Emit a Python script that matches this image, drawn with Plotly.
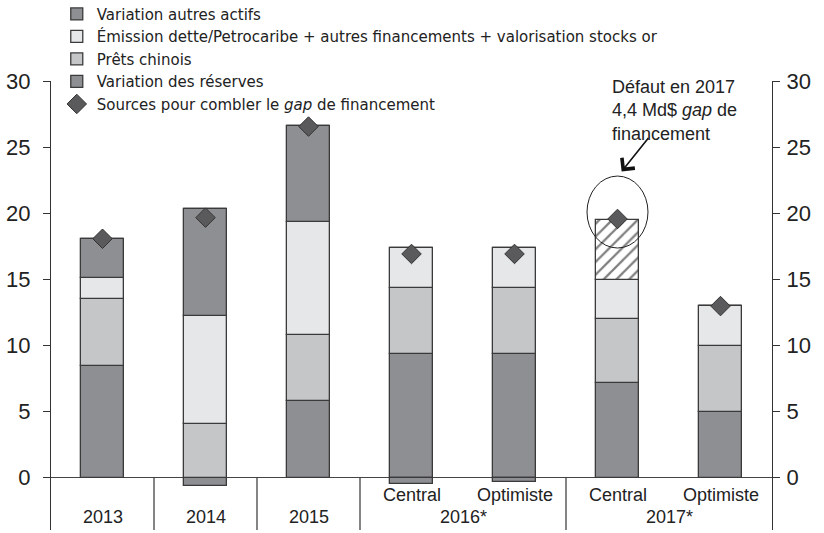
import plotly.graph_objects as go

# ---- data ----
positions = [0, 1, 2, 3, 4, 5, 6]
inner_labels = ["", "", "", "Central", "Optimiste", "Central", "Optimiste"]
outer_labels = ["2013", "2014", "2015", "2016*", "2016*", "2017*", "2017*"]

reserves = [8.5, -0.6, 5.8, 9.35, 9.35, 7.15, 5.0]          # Variation des réserves
prets_chinois = [5.05, 4.05, 5.0, 5.0, 5.0, 4.85, 5.0]      # Prêts chinois
emission = [1.6, 8.2, 8.6, 3.05, 3.05, 3.0, 3.0]            # Émission dette/Petrocaribe + ...
autres_actifs = [2.9, 8.1, 7.25, -0.45, -0.3, 0, 0]         # Variation autres actifs
gap_financement = [0, 0, 0, 0, 0, 4.5, 0]                   # gap 2017 (hachuré)
sources = [18.1, 19.7, 26.6, 16.95, 16.95, 19.6, 13.0]      # Sources pour combler le gap

y_ticks = [0, 5, 10, 15, 20, 25, 30]

# ---- style ----
FONT = "Liberation Sans, Arial, sans-serif"
LEG_FONT = "DejaVu Sans, Liberation Sans, sans-serif"
DARK = "#8e8f93"
MID = "#c5c6c8"
LIGHT = "#e6e7e9"
EDGE = "#3a3a3a"
TXT = "#222222"
BW = 0.42

fig = go.Figure()

def add_bar(vals, name, color, rank, show=True, pattern=None):
    fig.add_trace(go.Bar(
        x=positions, y=vals, name=name, width=BW,
        marker=dict(color=color, line=dict(color=EDGE, width=1.3),
                    pattern=pattern if pattern else None),
        legendrank=rank, showlegend=show,
    ))

add_bar(reserves, "Variation des réserves", DARK, 4)
add_bar(prets_chinois, "Prêts chinois", MID, 3)
add_bar(emission, "Émission dette/Petrocaribe + autres financements + valorisation stocks or", LIGHT, 2)
add_bar(autres_actifs, "Variation autres actifs", DARK, 1)
add_bar(gap_financement, "gap", "white", 10, show=False,
        pattern=dict(shape="/", fgcolor="#000", bgcolor="white", size=9, solidity=0.25))

fig.add_trace(go.Scatter(
    x=positions, y=sources, mode="markers",
    name="Sources pour combler le <i>gap</i> de financement",
    marker=dict(symbol="diamond", size=15, color="#5a5a5c",
                line=dict(color="#333", width=1)),
    legendrank=5,
))

# invisible trace for right axis
fig.add_trace(go.Scatter(x=[positions[0]], y=[0], yaxis="y2", mode="markers",
                         marker=dict(opacity=0), showlegend=False, hoverinfo="skip"))

YMIN, YMAX = -3.96, 30.05

axis_common = dict(
    range=[YMIN, YMAX], tickvals=y_ticks, ticks="outside", ticklen=7,
    tickcolor="#333", showline=True, linecolor="#333", linewidth=1.2,
    showgrid=False, tickfont=dict(family=FONT, size=22, color=TXT),
    fixedrange=True,
)

fig.update_layout(
    width=824, height=533,
    margin=dict(l=51, r=52, t=81, b=3, autoexpand=False),
    paper_bgcolor="white", plot_bgcolor="white",
    barmode="relative", bargap=0,
    font=dict(family=FONT, color=TXT),
    xaxis=dict(range=[-0.5, 6.5], showticklabels=False, ticks="",
               showgrid=False, zeroline=False, showline=False, fixedrange=True),
    yaxis=dict(**axis_common, side="left", zeroline=True, zerolinecolor="#444",
               zerolinewidth=1.2, ticklabelstandoff=8),
    yaxis2=dict(**axis_common, side="right", overlaying="y", zeroline=False,
                ticklabelstandoff=2),
    legend=dict(x=0.008, y=1.1855, xanchor="left", yanchor="top",
                font=dict(family=LEG_FONT, size=15, color=TXT),
                bgcolor="rgba(0,0,0,0)", itemwidth=30, traceorder="normal"),
    showlegend=True,
)

# category dividers (below the zero line)
for i in range(len(positions) - 1):
    if outer_labels[i] != outer_labels[i + 1]:
        fig.add_shape(type="line", xref="x", yref="y",
                      x0=positions[i] + 0.5, x1=positions[i] + 0.5, y0=0, y1=YMIN,
                      line=dict(color="#333", width=1.2))

# inner labels
for p, lab in zip(positions, inner_labels):
    if lab:
        fig.add_annotation(x=p, y=-1.3, xref="x", yref="y", text=lab, showarrow=False,
                           font=dict(family=FONT, size=18, color=TXT), yanchor="middle")

# outer labels (centred on their group)
groups = []
for p, lab in zip(positions, outer_labels):
    if groups and groups[-1][0] == lab:
        groups[-1][1].append(p)
    else:
        groups.append([lab, [p]])
for lab, ps in groups:
    fig.add_annotation(x=sum(ps) / len(ps), y=-2.95, xref="x", yref="y", text=lab,
                       showarrow=False, font=dict(family=FONT, size=18, color=TXT),
                       yanchor="middle")

# annotation for the 2017 default
gap_idx = 5
fig.add_shape(type="circle", xref="x", yref="y",
              x0=gap_idx - 0.296, x1=gap_idx + 0.296, y0=17.4, y1=22.85,
              line=dict(color="#222", width=1))
fig.add_annotation(x=gap_idx + 0.04, y=23.2, xref="x", yref="y", text="",
                   showarrow=True, ax=28, ay=-35, arrowhead=4, arrowsize=2.0,
                   arrowwidth=1.6, arrowcolor="#111")
fig.add_annotation(x=gap_idx - 0.073, y=27.8, xref="x", yref="y",
                   text="Défaut en 2017<br>4,4 Md$ <i>gap</i> de<br>financement",
                   showarrow=False, xanchor="left", yanchor="middle", align="left",
                   font=dict(family=FONT, size=18, color=TXT))

fig.write_html("out.html", config={"displayModeBar": False},
               post_script="document.body.style.margin='0px';")
